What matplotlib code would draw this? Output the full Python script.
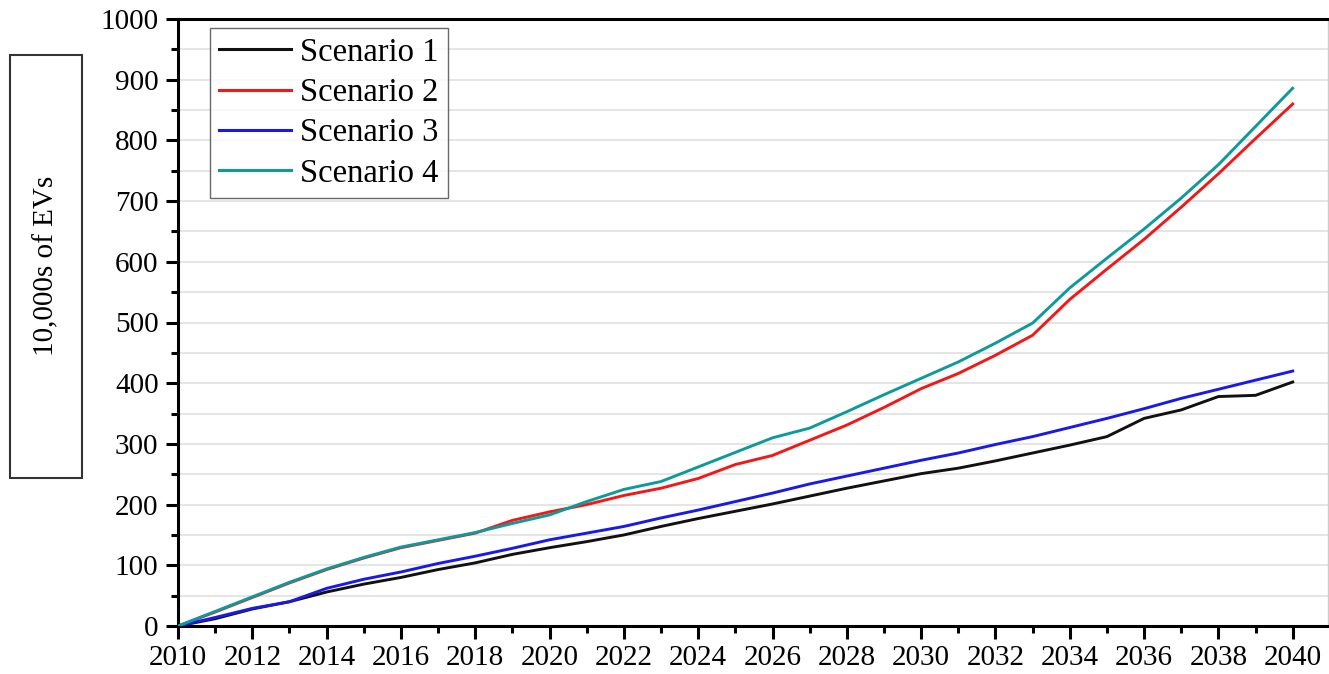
import numpy as np
import matplotlib
matplotlib.use('Agg')
import matplotlib.pyplot as plt
from matplotlib.patches import Rectangle
from matplotlib.ticker import MultipleLocator

plt.rcParams['font.family'] = ['Liberation Serif', 'DejaVu Serif']

years = np.arange(2010, 2041)

# 10,000s of EVs per scenario
scenario1 = [0, 12, 28, 40, 56, 69, 80, 93, 104, 118, 129, 139, 150, 164, 177, 189,
             201, 214, 227, 239, 251, 260, 272, 285, 298, 312, 342, 356, 378, 380, 402]
scenario2 = [0, 23, 47, 71, 93, 112, 129, 141, 153, 174, 188, 200, 215, 227, 243, 266,
             281, 306, 331, 360, 391, 416, 446, 479, 538, 588, 637, 690, 745, 803, 860]
scenario3 = [0, 14, 29, 40, 62, 77, 89, 103, 115, 128, 142, 153, 164, 178, 191, 205,
             219, 234, 247, 260, 273, 285, 299, 312, 327, 342, 358, 375, 390, 405, 420]
scenario4 = [0, 24, 48, 72, 94, 113, 130, 142, 154, 169, 183, 205, 225, 238, 262, 286,
             310, 326, 353, 381, 408, 435, 466, 499, 557, 606, 654, 705, 760, 823, 886]

labels = ['Scenario 1', 'Scenario 2', 'Scenario 3', 'Scenario 4']
colors = ['#111111', '#f21818', '#1a1ae6', '#0e9a9a']

fig = plt.figure(figsize=(13.29, 6.74), dpi=100)
ax = fig.add_axes([178 / 1329, 1 - 626 / 674, 1150 / 1329, 607 / 674])

for vals, lab, c in zip([scenario1, scenario2, scenario3, scenario4], labels, colors):
    ax.plot(years, vals, color=c, lw=2.1, label=lab, zorder=3)

ax.set_xlim(2010, 2040.95)
ax.set_ylim(0, 1000)
ax.xaxis.set_major_locator(MultipleLocator(2))
ax.xaxis.set_minor_locator(MultipleLocator(1))
ax.yaxis.set_major_locator(MultipleLocator(100))
ax.yaxis.set_minor_locator(MultipleLocator(50))
ax.grid(True, which='both', axis='y', color='#dedede', lw=1.1, zorder=0)

ax.tick_params(which='major', direction='out', length=9, width=2.2, labelsize=21, pad=5)
ax.tick_params(which='minor', direction='out', length=5, width=2.2)
ax.tick_params(top=False, right=False)

for side in ['left', 'bottom', 'top']:
    ax.spines[side].set_linewidth(2.2)
    ax.spines[side].set_color('black')
ax.spines['right'].set_linewidth(1)
ax.spines['right'].set_color('#cccccc')

leg = ax.legend(loc='upper left', bbox_to_anchor=(210 / 1329, 1 - 28 / 674),
                bbox_transform=fig.transFigure, fontsize=23.5, frameon=True,
                fancybox=False, borderaxespad=0, handlelength=2.2,
                handletextpad=0.28, labelspacing=0.3, borderpad=0.28)
leg.get_frame().set_edgecolor('#444444')
leg.get_frame().set_linewidth(1.0)
for line in leg.get_lines():
    line.set_linewidth(2.2)

# y label in its own box
fig.patches.append(Rectangle((10 / 1329, 1 - 478 / 674), 72 / 1329, 423 / 674,
                             transform=fig.transFigure, fill=False,
                             edgecolor='#333333', lw=1.5))
fig.text(46 / 1329, 1 - 266 / 674, '10,000s of EVs', rotation=90,
         ha='center', va='center', fontsize=21)

fig.savefig('out.png', dpi=100)
